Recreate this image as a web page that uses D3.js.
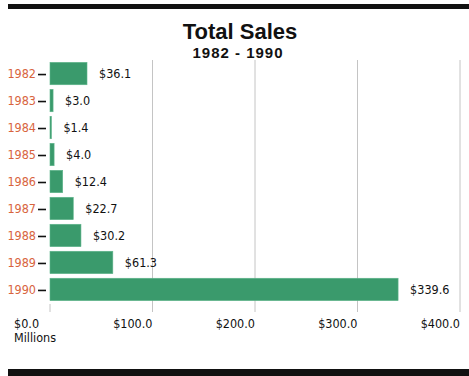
<!DOCTYPE html>
<html><head><meta charset="utf-8">
<script src="https://cdn.jsdelivr.net/npm/d3@7"></script>
<style>body{margin:0;background:#fff}svg{display:block}</style>
</head><body>
<script>
const years = ["1982","1983","1984","1985","1986","1987","1988","1989","1990"];
const sales = [36.1, 3.0, 1.4, 4.0, 12.4, 22.7, 30.2, 61.3, 339.6];
const xTicks = [0, 100, 200, 300, 400];
const tickLabels = ["$0.0", "$100.0", "$200.0", "$300.0", "$400.0"];
const title = "Total Sales";
const subtitle = "1982 - 1990";
const unitLabel = "Millions";

const W = 469, H = 376;
const svg = d3.select("body").append("svg").attr("width", W).attr("height", H);
const narrow = "'Liberation Sans Narrow','DejaVu Sans Condensed',sans-serif";

svg.append("rect").attr("x", 8).attr("y", 4).attr("width", W - 8).attr("height", 5).attr("fill", "#111");
svg.append("rect").attr("x", 8).attr("y", 369).attr("width", W - 8).attr("height", 7).attr("fill", "#111");

svg.append("text").attr("x", 240).attr("y", 39).attr("text-anchor", "middle")
  .attr("font-family", "'Liberation Sans',Arial,sans-serif").attr("font-weight", "bold")
  .attr("font-size", 22).attr("fill", "#111").text(title);
svg.append("text").attr("x", 238).attr("y", 58).attr("text-anchor", "middle")
  .attr("font-family", "'Liberation Sans',Arial,sans-serif").attr("font-weight", "bold")
  .attr("font-size", 15).attr("letter-spacing", 1).attr("fill", "#111").text(subtitle);

const x = d3.scaleLinear().domain([0, 400]).range([50, 460]);
const y = d3.scaleBand().domain(years).range([61, 302]).paddingInner(0.17).paddingOuter(0.05);

// grid
svg.append("g").selectAll("line").data(xTicks.slice(1)).join("line")
  .attr("x1", d => x(d)).attr("x2", d => x(d)).attr("y1", 60).attr("y2", 312)
  .attr("stroke", "#c4c4c4").attr("stroke-width", 1);
svg.append("line").attr("x1", x(0)).attr("x2", x(0)).attr("y1", 304).attr("y2", 312)
  .attr("stroke", "#c4c4c4");

// bars
svg.append("g").selectAll("rect").data(years).join("rect")
  .attr("x", x(0)).attr("y", d => y(d))
  .attr("width", (d, i) => x(sales[i]) - x(0)).attr("height", y.bandwidth())
  .attr("fill", "#3a9a6c").attr("stroke", "#5fb58c").attr("stroke-width", 0.6);

// value labels
svg.append("g").selectAll("text").data(years).join("text")
  .attr("x", (d, i) => x(sales[i]) + 12).attr("y", d => y(d) + y.bandwidth() / 2 + 4.5)
  .attr("font-family", narrow).attr("font-size", 12.5).attr("fill", "#111")
  .text((d, i) => "$" + sales[i].toFixed(1));

// y labels
const yl = svg.append("g");
yl.selectAll("text").data(years).join("text")
  .attr("x", 36).attr("y", d => y(d) + y.bandwidth() / 2 + 4.5).attr("text-anchor", "end")
  .attr("font-family", narrow).attr("font-size", 12.5).attr("fill", "#d8643e")
  .text(d => d);
yl.selectAll("line").data(years).join("line")
  .attr("x1", 38).attr("x2", 46)
  .attr("y1", d => y(d) + y.bandwidth() / 2 + 1).attr("y2", d => y(d) + y.bandwidth() / 2 + 1)
  .attr("stroke", "#111").attr("stroke-width", 1.6);

// x labels
svg.append("g").selectAll("text").data(xTicks).join("text")
  .attr("x", (d, i) => i === 0 ? 14 : x(d)).attr("y", 328)
  .attr("text-anchor", (d, i) => i === 0 ? "start" : "end")
  .attr("font-family", narrow).attr("font-size", 12.5).attr("fill", "#111")
  .text((d, i) => tickLabels[i]);
svg.append("text").attr("x", 14).attr("y", 342)
  .attr("font-family", narrow).attr("font-size", 12.5).attr("fill", "#111").text(unitLabel);
</script>
</body></html>
